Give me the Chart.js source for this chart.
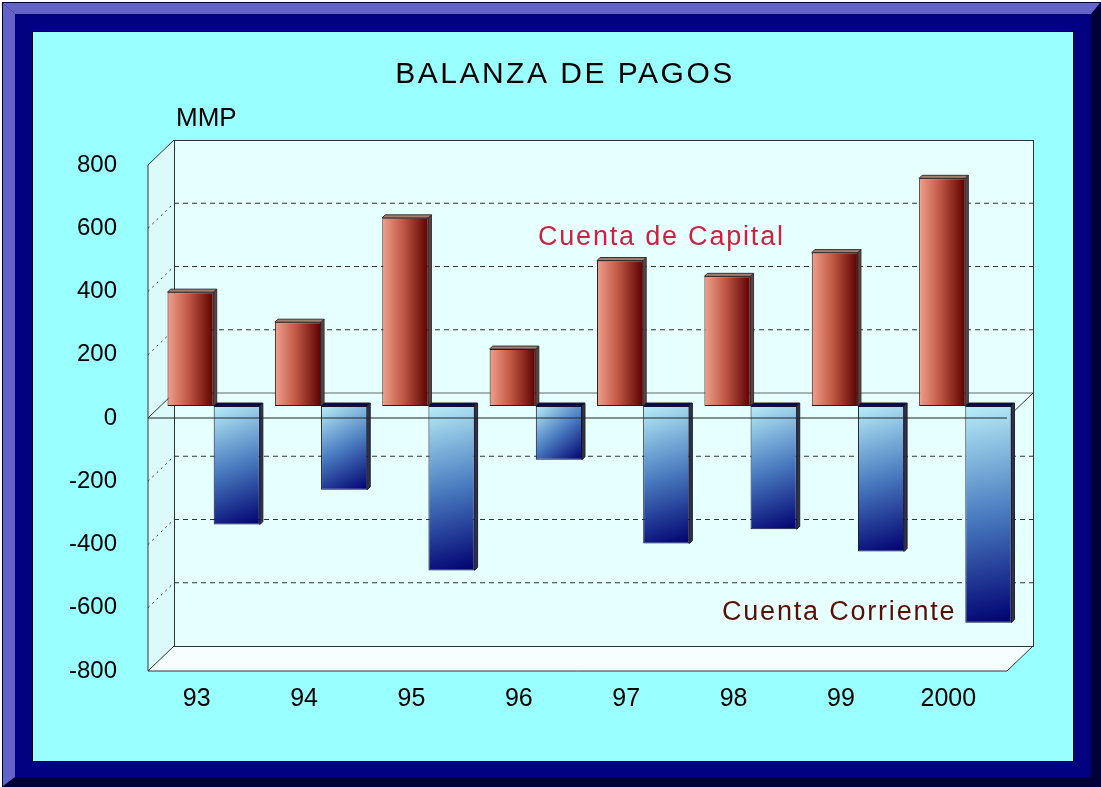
<!DOCTYPE html>
<html>
<head>
<meta charset="utf-8">
<title>Balanza de Pagos</title>
<script src="https://cdn.jsdelivr.net/npm/chart.js@4/dist/chart.umd.min.js"></script>
<style>
  html, body { margin: 0; padding: 0; background: #ffffff; }
  #wrap { width: 1101px; height: 787px; }
</style>
</head>
<body>
<div id="wrap"><canvas id="main-graph"></canvas></div>
<script>
// data (MMP)
const years = ['93', '94', '95', '96', '97', '98', '99', '2000'];
const cuenta_capital = [360, 265, 595, 180, 460, 410, 485, 720];
const cuenta_corriente = [-375, -265, -520, -170, -435, -390, -460, -685];
const y_ticks = [-800, -600, -400, -200, 0, 200, 400, 600, 800];

// depth offsets of the fake 3d box, relative to the bar plane
const back_dx = 14, back_dy = -13;
const front_dx = -12, front_dy = 12;
const cat_pct = 0.86;

const font_main = '"Liberation Sans", Arial, sans-serif';

function barBox(c)
{
    const ch = c.chart;
    const xs = ch.scales.x;
    const cw = xs.width / years.length;
    const cx = xs.getPixelForValue(c.dataIndex);
    const bw = cw * cat_pct / 2;
    return {cx: cx, bw: bw};
}

function redFill(c)
{
    if (c.type !== 'data' || !c.chart.chartArea) return '#a03525';
    const b = barBox(c);
    const g = c.chart.ctx.createLinearGradient(b.cx - b.bw, 0, b.cx, 0);
    g.addColorStop(0, '#f0a08c');
    g.addColorStop(0.45, '#c05844');
    g.addColorStop(1, '#5c0000');
    return g;
}

function blueFill(c)
{
    if (c.type !== 'data' || !c.chart.chartArea) return '#3060b0';
    const b = barBox(c);
    const ys = c.chart.scales.y;
    const top = ys.getPixelForValue(0);
    const bot = ys.getPixelForValue(c.raw);
    const g = c.chart.ctx.createLinearGradient(b.cx, top, b.cx + b.bw, bot);
    g.addColorStop(0, '#b8eef8');
    g.addColorStop(0.5, '#4a7cc0');
    g.addColorStop(1, '#000070');
    return g;
}

function poly(ctx, pts, fill, stroke)
{
    ctx.beginPath();
    ctx.moveTo(pts[0][0], pts[0][1]);
    for (let i = 1; i < pts.length; i++) ctx.lineTo(pts[i][0], pts[i][1]);
    ctx.closePath();
    if (fill) { ctx.fillStyle = fill; ctx.fill(); }
    if (stroke) { ctx.strokeStyle = stroke; ctx.lineWidth = 1; ctx.stroke(); }
}

function line(ctx, x1, y1, x2, y2, color, dash)
{
    ctx.beginPath();
    ctx.setLineDash(dash || []);
    ctx.strokeStyle = color;
    ctx.lineWidth = 1;
    ctx.moveTo(x1, y1);
    ctx.lineTo(x2, y2);
    ctx.stroke();
    ctx.setLineDash([]);
}

const boxPlugin = {
    id: 'box3d',
    beforeDraw(chart)
    {
        const ctx = chart.ctx;
        const W = chart.width, H = chart.height;
        ctx.save();
        // frame
        ctx.fillStyle = '#ffffff';
        ctx.fillRect(0, 0, W, H);
        ctx.fillStyle = '#000038';
        ctx.fillRect(2, 2, W - 2, H - 2);
        poly(ctx, [[3, 3], [W - 1, 3], [W - 10, 14], [15, 14]], '#6464c8', null);
        poly(ctx, [[3, 3], [15, 14], [15, H - 10], [3, H - 1]], '#6464c8', null);
        ctx.fillStyle = '#000080';
        ctx.fillRect(15, 14, 1076, 763);
        ctx.fillStyle = '#000000';
        ctx.fillRect(32, 31, 1042, 731);
        ctx.fillStyle = '#99ffff';
        ctx.fillRect(33, 32, 1040, 729);

        const a = chart.chartArea;
        const ys = chart.scales.y;
        const L = a.left, R = a.right;
        const T = ys.getPixelForValue(800), B = ys.getPixelForValue(-800);
        const Z = ys.getPixelForValue(0);

        // walls
        poly(ctx, [[L + back_dx, T + back_dy], [L + back_dx, B + back_dy], [L + front_dx, B + front_dy], [L + front_dx, T + front_dy]], '#dcfafa', null);
        ctx.fillStyle = '#e6ffff';
        ctx.fillRect(L + back_dx, T + back_dy, R - L, B - T);
        poly(ctx, [[L + back_dx, B + back_dy], [R + back_dx, B + back_dy], [R + front_dx, B + front_dy], [L + front_dx, B + front_dy]], '#f6ffff', null);

        // grid lines on back wall and side wall
        for (const v of y_ticks)
        {
            if (v === 0 || Math.abs(v) === 800) continue;
            const p = ys.getPixelForValue(v);
            line(ctx, L + back_dx, p + back_dy, R + back_dx, p + back_dy, '#333333', [5, 4]);
            line(ctx, L + front_dx, p + front_dy, L + back_dx, p + back_dy, '#333333', [2, 4]);
        }

        // zero plane, back part
        line(ctx, L + back_dx, Z + back_dy, R + back_dx, Z + back_dy, '#666666');
        line(ctx, L + front_dx, Z + front_dy, L + back_dx, Z + back_dy, '#333333');
        line(ctx, R + front_dx, Z + front_dy, R + back_dx, Z + back_dy, '#333333');

        // edges
        ctx.strokeStyle = '#333333';
        ctx.lineWidth = 1;
        ctx.strokeRect(L + back_dx + 0.5, T + back_dy + 0.5, R - L, B - T);
        line(ctx, L + front_dx, T + front_dy, L + back_dx, T + back_dy, '#333333');
        line(ctx, L + front_dx, T + front_dy, L + front_dx, B + front_dy, '#333333');
        line(ctx, L + front_dx, B + front_dy, L + back_dx, B + back_dy, '#333333');
        line(ctx, L + front_dx, B + front_dy, R + front_dx, B + front_dy, '#333333');
        line(ctx, R + front_dx, B + front_dy, R + back_dx, B + back_dy, '#333333');
        ctx.restore();
    },
    beforeDatasetsDraw(chart)
    {
        // little depth faces behind each bar
        const ctx = chart.ctx;
        ctx.save();
        const d = 3;
        chart.getDatasetMeta(0).data.forEach(function(el){
            const l = el.x - el.width / 2, r = el.x + el.width / 2;
            poly(ctx, [[l, el.y], [l + d, el.y - d], [r + d, el.y - d], [r, el.y]], '#a08070', '#333333');
            poly(ctx, [[r, el.y], [r + d, el.y - d], [r + d, el.base - d], [r, el.base]], '#604040', '#333333');
        });
        chart.getDatasetMeta(1).data.forEach(function(el){
            const l = el.x - el.width / 2, r = el.x + el.width / 2;
            poly(ctx, [[l, el.base], [l + d, el.base - d], [r + d, el.base - d], [r, el.base]], '#000050', '#222222');
            poly(ctx, [[r, el.base], [r + d, el.base - d], [r + d, el.y - d], [r, el.y]], '#303050', '#222222');
        });
        ctx.restore();
    },
    afterDatasetsDraw(chart)
    {
        const ctx = chart.ctx;
        const a = chart.chartArea;
        const Z = chart.scales.y.getPixelForValue(0);
        ctx.save();
        line(ctx, a.left + front_dx, Z + front_dy, a.right + front_dx, Z + front_dy, '#222222');
        ctx.restore();
    },
    afterDraw(chart)
    {
        const ctx = chart.ctx;
        ctx.save();
        ctx.textBaseline = 'alphabetic';
        ctx.fillStyle = '#000000';
        ctx.font = '30px ' + font_main;
        ctx.letterSpacing = '2.5px';
        ctx.textAlign = 'center';
        ctx.fillText('BALANZA DE PAGOS', 565, 83);

        ctx.letterSpacing = '0px';
        ctx.textAlign = 'left';
        ctx.font = '26px ' + font_main;
        ctx.fillText('MMP', 176, 126);

        ctx.font = '27px ' + font_main;
        ctx.letterSpacing = '1.8px';
        ctx.fillStyle = '#d02040';
        ctx.fillText('Cuenta de Capital', 538, 245);
        ctx.fillStyle = '#5a1000';
        ctx.fillText('Cuenta Corriente', 722, 620);
        ctx.restore();
    }
};

const myChart = new Chart(document.getElementById('main-graph'), {
    type: 'bar',
    data: {
        labels: years,
        datasets: [{
            label: 'Cuenta de Capital',
            data: cuenta_capital,
            backgroundColor: redFill,
            borderColor: '#2a1a1a',
            borderWidth: 1,
            borderSkipped: false
        }, {
            label: 'Cuenta Corriente',
            data: cuenta_corriente,
            backgroundColor: blueFill,
            borderColor: '#101030',
            borderWidth: 1,
            borderSkipped: false
        }]
    },
    options: {
        responsive: true,
        maintainAspectRatio: false,
        animation: false,
        datasets: {
            bar: { categoryPercentage: cat_pct, barPercentage: 1.0 }
        },
        layout: { padding: { top: 153, right: 82, left: 0, bottom: 0 } },
        plugins: {
            legend: { display: false },
            title: { display: false },
            tooltip: { enabled: false }
        },
        scales: {
            x: {
                grid: { display: false, drawTicks: false },
                border: { display: false },
                ticks: {
                    color: '#000000',
                    font: { family: font_main, size: 25 },
                    padding: 25,
                    labelOffset: -17,
                    maxRotation: 0,
                    autoSkip: false
                },
                afterFit: function(s) { s.height = 128; }
            },
            y: {
                min: -800,
                max: 800,
                grid: { display: false, drawTicks: false },
                border: { display: false },
                afterBuildTicks: function(s) { s.ticks = y_ticks.map(v => ({value: v})); },
                ticks: {
                    color: '#000000',
                    font: { family: font_main, size: 24 },
                    padding: 43,
                    labelOffset: 12
                },
                afterFit: function(s) { s.width = 160; }
            }
        }
    },
    plugins: [boxPlugin]
});
</script>
</body>
</html>
